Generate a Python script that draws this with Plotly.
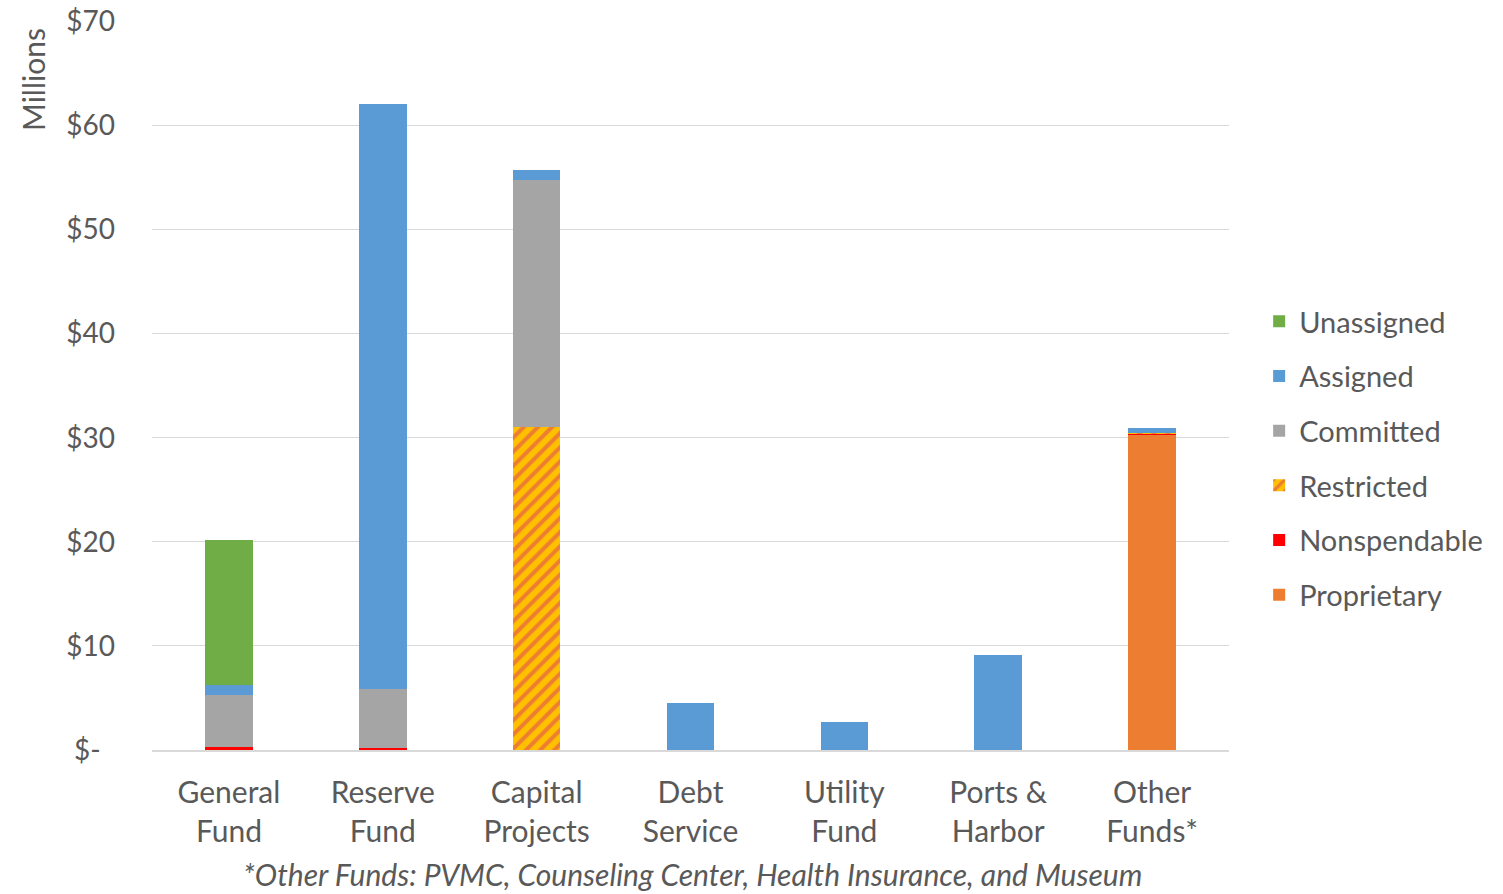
import plotly.graph_objects as go

# Fund balances by fund, in millions of dollars
funds = ["General<br>Fund", "Reserve<br>Fund", "Capital<br>Projects", "Debt<br>Service",
         "Utility<br>Fund", "Ports &<br>Harbor", "Other<br>Funds*"]

proprietary = [0, 0, 0, 0, 0, 0, 30.3]
nonspendable = [0.3, 0.15, 0, 0, 0, 0, 0.1]
restricted = [0, 0, 31.0, 0, 0, 0, 0.1]
committed = [5.0, 5.7, 23.8, 0, 0, 0, 0]
assigned = [0.9, 56.2, 0.9, 4.5, 2.7, 9.1, 0.4]
unassigned = [14.0, 0, 0, 0, 0, 0, 0]

y_ticks = [0, 10, 20, 30, 40, 50, 60, 70]
y_tick_text = ["$-\u00a0\u00a0", "$10", "$20", "$30", "$40", "$50", "$60", "$70"]

FONT = "Lato, 'Open Sans', sans-serif"
TEXT = "#595959"
GRID = "#D9D9D9"

# Stacked bottom-to-top; the legend lists them top-to-bottom
series = [
    ("Proprietary", proprietary, "#ED7D31", None),
    ("Nonspendable", nonspendable, "#FF0000", None),
    ("Restricted", restricted, "#FFC000", dict(shape="/", fgcolor="#ED7D31", bgcolor="#FFC000",
                                                 size=10, solidity=0.4, fillmode="replace")),
    ("Committed", committed, "#A5A5A5", None),
    ("Assigned", assigned, "#5B9BD5", None),
    ("Unassigned", unassigned, "#70AD47", None),
]

fig = go.Figure()
for i, (name, vals, color, pattern) in enumerate(series):
    marker = dict(color=color, line=dict(width=0))
    if pattern:
        marker["pattern"] = pattern
    fig.add_trace(go.Bar(x=funds, y=vals, name=name, marker=marker,
                         legendgroup=name, legendrank=1000 - i))

fig.update_layout(
    barmode="stack",
    bargap=0.69,
    width=1503, height=894,
    margin=dict(l=152, r=274, t=21, b=144),
    paper_bgcolor="white", plot_bgcolor="white",
    font=dict(family=FONT, size=30, color=TEXT),
    showlegend=True,
    legend=dict(x=1.028, xanchor="left", y=0.40, yanchor="middle",
                traceorder="grouped", tracegroupgap=14,
                font=dict(family=FONT, size=29, color=TEXT)),
    xaxis=dict(showgrid=False, showline=True, linecolor=GRID, linewidth=2,
               ticks="", tickfont=dict(family=FONT, size=30, color=TEXT),
               ticklabelstandoff=15, automargin=False),
    yaxis=dict(range=[0, 70.03], tickvals=y_ticks, ticktext=y_tick_text,
               showgrid=True, gridcolor=GRID, gridwidth=1, zeroline=False,
               showline=False, ticks="", ticklabelstandoff=36, automargin=False,
               tickfont=dict(family=FONT, size=28, color=TEXT)),
    annotations=[
        dict(text="Millions", textangle=-90, xref="paper", yref="paper",
             x=(33 - 152) / 1077, y=(750 - 80) / 729, xanchor="center", yanchor="middle",
             showarrow=False, font=dict(family=FONT, size=30, color=TEXT)),
        dict(text="<i>*Other Funds: PVMC, Counseling Center, Health Insurance, and Museum</i>",
             xref="paper", yref="paper", x=(692 - 152) / 1077, y=(750 - 894) / 729,
             xanchor="center", yanchor="bottom", showarrow=False,
             font=dict(family=FONT, size=30, color=TEXT)),
    ],
)

fig.write_html("out.html")
